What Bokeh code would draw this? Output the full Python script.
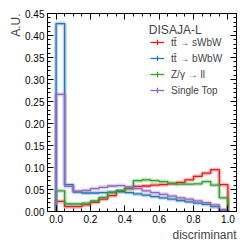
from bokeh.plotting import figure
from bokeh.models import (Range1d, LinearAxis, Legend, LegendItem, Title, Label,
                          SingleIntervalTicker, NumeralTickFormatter,
                          CustomJSTickFormatter)
from bokeh.embed import file_html
from bokeh.resources import INLINE

# bin edges of the discriminant histogram
edges = [0.0, 0.05, 0.10, 0.15, 0.20, 0.25, 0.30, 0.35, 0.40, 0.45, 0.50,
         0.55, 0.60, 0.65, 0.70, 0.75, 0.80, 0.85, 0.90, 0.95, 1.0]

names = ["tt\u0304 \u2192 sWbW", "tt\u0304 \u2192 bWbW", "Z/\u03b3 \u2192 ll", "Single Top"]

sWbW = [0.023, 0.011, 0.011, 0.015, 0.021, 0.028, 0.036, 0.046, 0.052, 0.057,
        0.058, 0.060, 0.061, 0.063, 0.066, 0.072, 0.080, 0.087, 0.095, 0.061]
bWbW = [0.427, 0.061, 0.044, 0.042, 0.042, 0.043, 0.044, 0.045, 0.043, 0.040,
        0.037, 0.034, 0.031, 0.028, 0.025, 0.022, 0.019, 0.016, 0.011, 0.003]
Zll = [0.047, 0.017, 0.017, 0.019, 0.024, 0.032, 0.043, 0.048, 0.053, 0.070,
       0.072, 0.070, 0.068, 0.064, 0.062, 0.062, 0.063, 0.068, 0.060, 0.031]
stop = [0.266, 0.057, 0.046, 0.048, 0.052, 0.055, 0.058, 0.059, 0.056, 0.052,
        0.047, 0.043, 0.039, 0.035, 0.031, 0.028, 0.024, 0.020, 0.015, 0.004]

series = [sWbW, bWbW, Zll, stop]
colors = ["#e41a1c", "#1f77b4", "#2ca02c", "#9467bd"]
legend_title = "DISAJA-L"

FONT = "Liberation Sans"

p = figure(width=241, height=241, output_backend="svg", toolbar_location=None,
           x_range=Range1d(-0.05, 1.05), y_range=Range1d(0, 0.45),
           min_border_left=47, min_border_right=5, min_border_top=13,
           min_border_bottom=30)
p.grid.visible = False
p.outline_line_color = "black"
p.outline_line_width = 1
p.background_fill_color = "white"
p.border_fill_color = "white"

def style_axis(ax):
    ax.major_tick_in = 6
    ax.major_tick_out = 0
    ax.minor_tick_in = 3
    ax.minor_tick_out = 0
    ax.axis_line_color = "black"
    ax.major_tick_line_color = "black"
    ax.minor_tick_line_color = "black"
    ax.major_label_text_font = FONT
    ax.major_label_text_font_size = "10px"
    ax.major_label_text_color = "black"
    ax.major_label_standoff = 3

p.xaxis.ticker = SingleIntervalTicker(interval=0.2, num_minor_ticks=4)
p.yaxis.ticker = SingleIntervalTicker(interval=0.05, num_minor_ticks=5)
p.xaxis.formatter = NumeralTickFormatter(format="0.0")
p.yaxis.formatter = NumeralTickFormatter(format="0.00")
style_axis(p.xaxis[0])
style_axis(p.yaxis[0])

blank = CustomJSTickFormatter(code="return ''")
top_ax = LinearAxis(ticker=SingleIntervalTicker(interval=0.2, num_minor_ticks=4),
                    formatter=blank)
right_ax = LinearAxis(ticker=SingleIntervalTicker(interval=0.05, num_minor_ticks=5),
                      formatter=blank)
for ax in (top_ax, right_ax):
    style_axis(ax)
    ax.major_label_standoff = 0
p.add_layout(top_ax, "above")
p.add_layout(right_ax, "right")

items = []
for vals, col, name in zip(series, colors, names):
    xs = [edges[0]] + edges
    ys = [0.0] + vals + [0.0]
    p.step(x=xs, y=ys, mode="after", line_color=col, line_width=4, line_alpha=0.3)
    main = p.step(x=xs, y=ys, mode="after", line_color=col, line_width=1.3)
    vbar = p.scatter(x=[float("nan")], y=[float("nan")], marker="cross",
                     size=13, line_color=col, line_width=1.2)
    items.append(LegendItem(label=name, renderers=[main, vbar]))

leg = Legend(items=items, location=(103, 113),
             label_text_font=FONT, label_text_font_size="10px",
             label_standoff=7, glyph_width=14, glyph_height=16,
             spacing=-1, padding=2, border_line_color=None,
             background_fill_alpha=0)
p.add_layout(leg)

p.add_layout(Label(x=0.54, y=0.45, y_offset=-9, text=legend_title,
                   text_baseline="top", text_align="left", text_font=FONT,
                   text_font_size="12px"))

p.add_layout(Title(text="discriminant", align="right", text_font=FONT,
                   text_font_size="12px", text_font_style="normal",
                   standoff=0, offset=0), "below")
p.add_layout(Title(text="A.U.", align="right", text_font=FONT,
                   text_font_size="12px", text_font_style="normal",
                   standoff=0, offset=0), "left")

open("out.html", "w").write(file_html(p, INLINE))
